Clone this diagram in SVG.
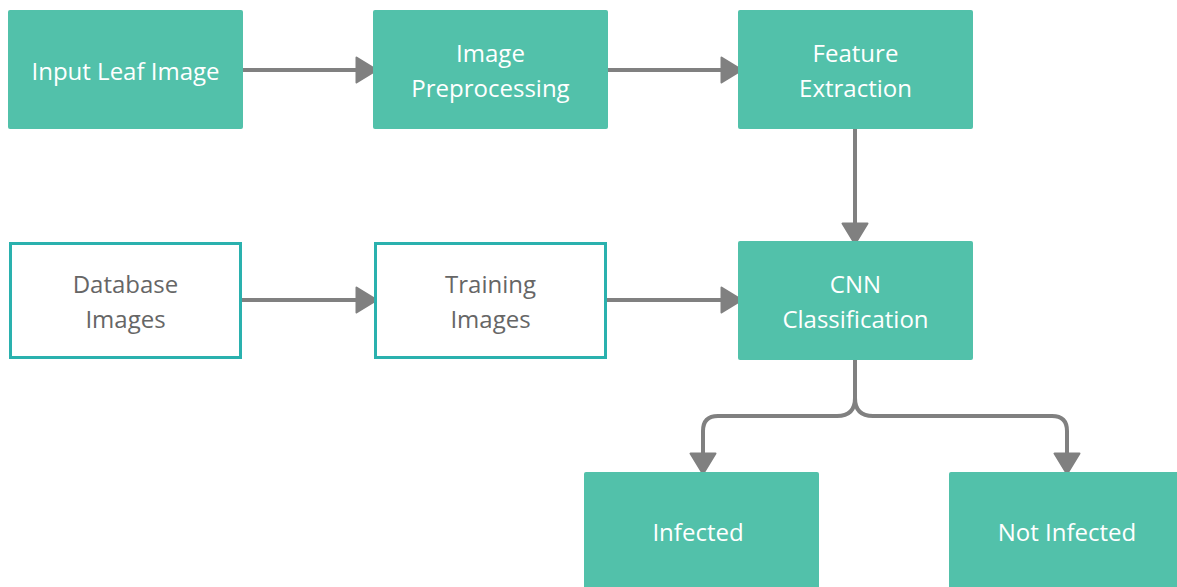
<svg xmlns="http://www.w3.org/2000/svg" width="1177" height="587" viewBox="0 0 1177 587">
<defs>
<style>
.g{fill:#52c1aa}
.o{fill:#fff;stroke:#2ab1ae;stroke-width:3}
.tw{fill:#fff;font-family:"Open Sans","Noto Sans",sans-serif;font-size:24px;text-anchor:middle}
.tg{fill:#666;font-family:"Open Sans","Noto Sans",sans-serif;font-size:24px;text-anchor:middle}
.c{fill:none;stroke:#808080;stroke-width:4;stroke-linejoin:round}
</style>
<marker id="ah" markerUnits="userSpaceOnUse" markerWidth="26" markerHeight="30" refX="22" refY="14" orient="auto" viewBox="0 0 26 30">
<path d="M1.5,1.5 L22,14 L1.5,26.5 Z" fill="#808080" stroke="#808080" stroke-width="2" stroke-linejoin="round"/>
</marker>
</defs>
<rect width="1177" height="587" fill="#fff"/>
<g id="connectors">
<path class="c" d="M242,70 H377" marker-end="url(#ah)"/>
<path class="c" d="M607,70 H742" marker-end="url(#ah)"/>
<path class="c" d="M855,128 V244" marker-end="url(#ah)"/>
<path class="c" d="M242,300 H377" marker-end="url(#ah)"/>
<path class="c" d="M607,300 H742" marker-end="url(#ah)"/>
<path class="c" d="M855,359 V398 Q855,416 837,416 H718 Q703,416 703,431 V474" marker-end="url(#ah)"/>
<path class="c" d="M855,398 Q855,416 873,416 H1052 Q1067,416 1067,431 V474" marker-end="url(#ah)"/>
</g>
<g id="input-leaf-image">
<rect class="g" x="8" y="10" width="235" height="119" rx="2"/>
<text class="tw" x="125.5" y="80">Input Leaf Image</text>
</g>
<g id="image-preprocessing">
<rect class="g" x="373" y="10" width="235" height="119" rx="2"/>
<text class="tw" x="490.5" y="62">Image</text>
<text class="tw" x="490.5" y="97">Preprocessing</text>
</g>
<g id="feature-extraction">
<rect class="g" x="738" y="10" width="235" height="119" rx="2"/>
<text class="tw" x="855.5" y="62">Feature</text>
<text class="tw" x="855.5" y="97">Extraction</text>
</g>
<g id="database-images">
<rect class="o" x="10.5" y="243.5" width="230" height="114"/>
<text class="tg" x="125.5" y="293">Database</text>
<text class="tg" x="125.5" y="328">Images</text>
</g>
<g id="training-images">
<rect class="o" x="375.5" y="243.5" width="230" height="114"/>
<text class="tg" x="490.5" y="293">Training</text>
<text class="tg" x="490.5" y="328">Images</text>
</g>
<g id="cnn-classification">
<rect class="g" x="738" y="241" width="235" height="119" rx="2"/>
<text class="tw" x="855.5" y="293">CNN</text>
<text class="tw" x="855.5" y="328">Classification</text>
</g>
<g id="infected">
<rect class="g" x="584" y="472" width="235" height="125" rx="2"/>
<text class="tw" x="698" y="541">Infected</text>
</g>
<g id="not-infected">
<rect class="g" x="949" y="472" width="240" height="125" rx="2"/>
<text class="tw" x="1067" y="541">Not Infected</text>
</g>
</svg>
